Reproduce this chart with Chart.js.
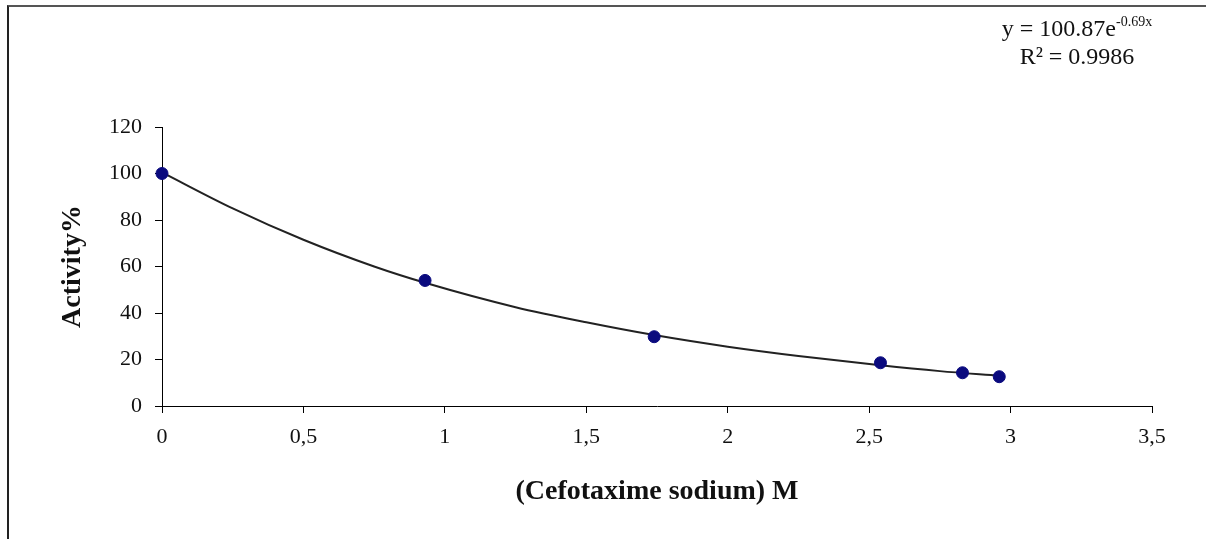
<!DOCTYPE html>
<html>
<head>
<meta charset="utf-8">
<script src="https://cdn.jsdelivr.net/npm/chart.js@4"></script>
<style>
  body { margin: 0; background: #fff; }
  #wrap { position: relative; width: 1206px; height: 539px; overflow: hidden; }
  #frame { position: absolute; left: 7px; top: 5px; right: 0; bottom: 0; border-left: 2px solid #222; border-top: 2px solid #555; }
  #chartActivity { position: absolute; left: 0; top: 0; }
  #eq { position: absolute; left: 950px; top: 14px; width: 254px; text-align: center;
        font-family: "Liberation Serif", serif; font-size: 24px; line-height: 28px; color: #111; }
  #eq sup { font-size: 14px; vertical-align: 10px; line-height: 0; }
</style>
</head>
<body>
<div id="wrap">
  <div id="frame"></div>
  <canvas id="chartActivity" width="1206" height="539"></canvas>
  <div id="eq">y = 100.87e<sup>-0.69x</sup><br>R² = 0.9986</div>
</div>
<script>
// measured points
const concX = [0, 0.93, 1.74, 2.54, 2.83, 2.96];
const activityY = [100, 54, 29.8, 18.6, 14.3, 12.6];

// trendline
const trendX = [0, 0.25, 0.5, 0.75, 0.93, 1.25, 1.5, 1.74, 2, 2.25, 2.54, 2.75, 2.96];
const trendY = [100.5, 85, 71.5, 60, 53, 42.5, 36, 30.5, 25.5, 21.5, 17.5, 15, 13];

const yTicks = [0, 20, 40, 60, 80, 100, 120];
const xTicks = [0, 0.5, 1, 1.5, 2, 2.5, 3, 3.5];

const serif = "'Liberation Serif', 'Times New Roman', serif";

let ctx = document.getElementById("chartActivity");

let data = {
  datasets: [
    {
      label: "trend",
      data: trendX.map((x, i) => ({ x: x, y: trendY[i] })),
      showLine: true,
      borderColor: "#222",
      borderWidth: 2,
      pointRadius: 0,
      cubicInterpolationMode: "monotone",
      fill: false,
      order: 2
    },
    {
      label: "Activity",
      data: concX.map((x, i) => ({ x: x, y: activityY[i] })),
      showLine: false,
      pointRadius: 6,
      pointBackgroundColor: "#0a0a7e",
      pointBorderColor: "#0a0a7e",
      pointBorderWidth: 1,
      order: 1
    }
  ]
};

let options = {
  responsive: false,
  animation: false,
  clip: false,
  layout: { padding: { top: 127, right: 54, left: 0, bottom: 0 } },
  plugins: { legend: { display: false }, tooltip: { enabled: false } },
  scales: {
    x: {
      type: "linear",
      min: 0,
      max: 3.5,
      afterBuildTicks: s => { s.ticks = xTicks.map(v => ({ value: v })); },
      afterFit: s => { s.height = 133; },
      grid: { drawOnChartArea: false, drawTicks: true, tickLength: 7, color: "#000" },
      border: { color: "#000", width: 1 },
      ticks: {
        color: "#111",
        padding: 11,
        font: { family: serif, size: 22 },
        callback: v => String(v).replace(".", ",")
      },
      title: {
        display: true,
        text: "(Cefotaxime sodium) M",
        color: "#111",
        font: { family: serif, size: 28, weight: "bold" },
        padding: { top: 0, bottom: 30 }
      }
    },
    y: {
      min: 0,
      max: 120,
      afterBuildTicks: s => { s.ticks = yTicks.map(v => ({ value: v })); },
      afterFit: s => { s.width = 162; },
      grid: { drawOnChartArea: false, drawTicks: true, tickLength: 7, color: "#000" },
      border: { color: "#000", width: 1 },
      ticks: {
        color: "#111",
        padding: 13,
        font: { family: serif, size: 22 }
      },
      title: {
        display: true,
        text: "Activity%",
        color: "#111",
        font: { family: serif, size: 28, weight: "bold" },
        padding: { top: 56, bottom: 0 }
      }
    }
  }
};

let activityChart = new Chart(ctx, {
  type: "scatter",
  data: data,
  options: options
});
</script>
</body>
</html>
